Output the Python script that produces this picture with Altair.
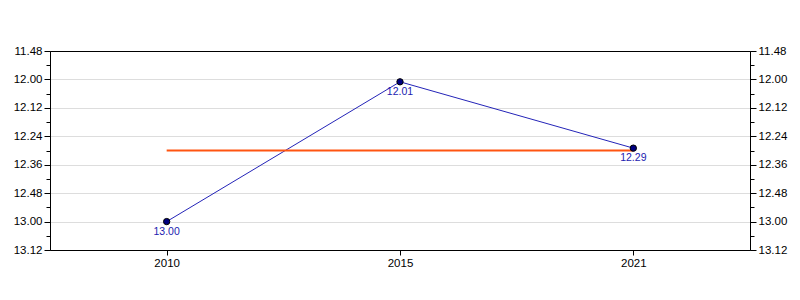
import altair as alt
import pandas as pd

years = ["2010", "2015", "2021"]
times = ["13.00", "12.01", "12.29"]

def to_secs(t):
    m, s = t.split(".")
    return int(m) * 60 + int(s)

secs = [to_secs(t) for t in times]
df = pd.DataFrame({"year": years, "time": times, "secs": secs})

major_ticks = ["11.48", "12.00", "12.12", "12.24", "12.36", "12.48", "13.00", "13.12"]
major_vals = [to_secs(t) for t in major_ticks]
minor_vals = [v + 6 for v in major_vals[:-1]]
domain = [major_vals[0], major_vals[-1]]

label_expr = "floor(datum.value/60) + '.' + (datum.value%60 < 10 ? '0' : '') + (datum.value%60)"
FONT = "Liberation Sans"
LFS = 11.5

xscale = alt.Scale(type="point", padding=0.5)
xenc = alt.X("year:O", scale=xscale,
             axis=alt.Axis(title=None, labelAngle=0, tickSize=5, labelPadding=2,
                           grid=False, domainColor="black", tickColor="black",
                           labelFont=FONT, labelFontSize=LFS, labelColor="black"))
xtop = alt.X("year:O", scale=xscale,
             axis=alt.Axis(title=None, orient="top", labels=False, ticks=False,
                           grid=False, domainColor="black"))
xnone = alt.X("year:O", scale=xscale, axis=None)

yscale = alt.Scale(domain=domain, reverse=True, zero=False, nice=False)

edge_test = f"datum.value <= {domain[0]} || datum.value >= {domain[1]}"

def yaxis(orient, values, labels=True, grid=False, tick=6):
    kw = dict(title=None, orient=orient, values=values, tickSize=tick, grid=grid,
              domain=True, domainColor="black", tickColor="black", labels=labels,
              gridColor="#dddddd")
    if grid:
        kw.update(gridOpacity={"condition": {"test": edge_test, "value": 0}, "value": 1})
    if labels:
        kw.update(labelExpr=label_expr, labelPadding=2, labelFont=FONT,
                  labelFontSize=LFS, labelColor="black")
    return alt.Axis(**kw)

base = alt.Chart(df)

line = base.mark_line(color="#2424b8", strokeWidth=1).encode(
    x=xenc, y=alt.Y("secs:Q", scale=yscale, axis=yaxis("left", major_vals, grid=True)))

rule = base.mark_rule(color="#ff5511", strokeWidth=2).encode(
    x=alt.X(datum=years[0], type="ordinal", scale=xscale, axis=None),
    x2=alt.X2(datum=years[-1]),
    y=alt.Y("mean(secs):Q", scale=yscale, axis=yaxis("right", minor_vals, labels=False, tick=4)))

pts = base.mark_point(filled=True, shape="circle", size=40, color="#000080",
                      stroke="black", strokeWidth=1, opacity=1).encode(
    x=xtop, y=alt.Y("secs:Q", scale=yscale, axis=yaxis("left", minor_vals, labels=False, tick=4)))

txt = base.mark_text(dy=10, fontSize=10.5, color="#1c1cb0", font=FONT).encode(
    x=xnone, y=alt.Y("secs:Q", scale=yscale, axis=yaxis("right", major_vals)),
    text="time:N")

chart = alt.layer(line, rule, pts, txt).resolve_axis(
    y="independent", x="independent").properties(
    width=700, height=199,
    autosize=alt.AutoSizeParams(type="none"),
    padding={"left": 50, "top": 51, "right": 50, "bottom": 50},
).configure_view(strokeWidth=0).configure(background="white")

chart.save("out.html", embed_options={"renderer": "svg", "actions": False})
